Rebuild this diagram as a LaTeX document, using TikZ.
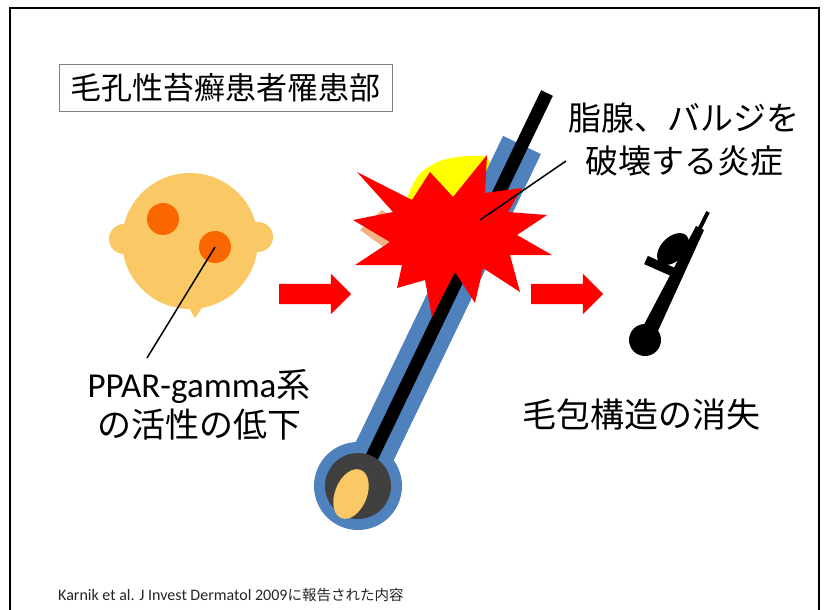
\documentclass[tikz,border=0pt]{standalone}
\usepackage{fontspec}
\setmainfont{Carlito}
\newfontfamily\jpfont{Noto Sans CJK JP}
\usetikzlibrary{shapes.arrows,shapes.geometric}

\definecolor{cellorange}{RGB}{250,200,100}
\definecolor{spotorange}{RGB}{250,102,0}
\definecolor{sheathblue}{RGB}{79,129,189}
\definecolor{bulbgray}{RGB}{64,64,64}
\definecolor{glandyellow}{RGB}{255,255,0}
\definecolor{bulgepeach}{RGB}{244,177,131}

\tikzset{
  bigtext/.style={font=\jpfont\fontsize{34}{40}\selectfont, align=center, inner sep=0pt},
  redarrow/.style={single arrow, fill=red, inner sep=10pt, minimum height=72pt,
    single arrow head extend=10pt, single arrow head indent=0pt},
  callout/.style={line width=1.5pt},
  dot/.style={circle, inner sep=0pt, minimum size=#1},
}

\begin{document}
\begin{tikzpicture}[x=1pt,y=-1pt]
\useasboundingbox (0,0) rectangle (825,610);
\fill[white] (0,0) rectangle (825,610);
\draw[line width=2pt] (10,8) rectangle (819,650);

\node[draw=gray, line width=1pt, minimum width=333pt, minimum height=46pt, inner sep=0pt,
  font=\jpfont\fontsize{31}{36}\selectfont] (title) at (225.5,88) {毛孔性苔癬患者罹患部};

% sebocyte
\fill[cellorange] (190,241) circle (68pt) (124,239) circle (15pt) (258,237) circle (15pt)
  (184,300) -- (195,318) -- (207,300) -- cycle;
\node[dot=32pt, fill=spotorange] (spotA) at (163,219) {};
\node[dot=32pt, fill=spotorange] (spotB) at (215,247) {};
\node[bigtext] (ppar) at (199,405) {{\rmfamily\fontsize{35}{40}\selectfont PPAR-gamma}系\\の活性の低下};
\coordinate (pparend) at (147,358);
\draw[callout] (spotB.center) -- (pparend);

\node[redarrow] (arrowA) at (310,294) {};
\node[redarrow] (arrowB) at (562,294) {};

% follicle with gland and bulge
\coordinate (bulb) at (358,486);
\coordinate (sheathtop) at (522,145);
\coordinate (hairtip) at (547,93);
\fill[glandyellow] plot[smooth cycle] coordinates {(408,205) (418,176) (440,161) (468,156) (489,160) (492,200) (450,210)};
\fill[bulgepeach] (360,230) -- (382,210) -- (405,228) -- (385,248) -- cycle;
\draw[sheathblue, line width=42pt] (bulb) -- (sheathtop);
\fill[sheathblue] (bulb) circle (44pt);
\draw[line width=13pt] (bulb) -- (hairtip);
\fill[bulbgray] (bulb) circle (33pt);
\node[ellipse, fill=cellorange, minimum width=32pt, minimum height=52pt, inner sep=0pt,
  rotate=-22] (papilla) at (351,494) {};

% inflammation
\fill[red] (357,172) -- (412,200) -- (430,172) -- (453,197) -- (487,155) -- (485,193)
  -- (522,188) -- (508,212) -- (547,215) -- (517,235) -- (552,255) -- (510,255)
  -- (520,292) -- (483,268) -- (475,303) -- (455,272) -- (432,317) -- (425,280)
  -- (397,288) -- (402,265) -- (355,265) -- (390,242) -- (353,220) -- (393,212) -- cycle;
\coordinate (flame) at (480,220);
\coordinate (flameend) at (566,161);
\draw[callout] (flame) -- (flameend);
\node[bigtext, font=\jpfont\fontsize{33}{43}\selectfont] (inflame) at (684,139) {脂腺、バルジを\\破壊する炎症};

% shrunken follicle
\coordinate (stub) at (645,340);
\fill (stub) circle (16pt);
\fill (638,336) -- (652,344) -- (704,230) -- (696,226) -- cycle;
\draw[line width=4pt] (697,234) -- (708,212);
\draw[line width=9pt] (646,260) -- (673,272);
\node[ellipse, fill=black, minimum width=38pt, minimum height=24pt, inner sep=0pt,
  rotate=45] (remnant) at (673,249) {};
\node[bigtext] (loss) at (641,415) {毛包構造の消失};

\node[anchor=west, inner sep=0pt, text=black!85, font=\fontsize{16}{18}\selectfont] (cite) at (58,595)
  {Karnik et al. J Invest Dermatol 2009{\jpfont\fontsize{14.5}{18}\selectfont に報告された内容}};
\end{tikzpicture}
\end{document}
